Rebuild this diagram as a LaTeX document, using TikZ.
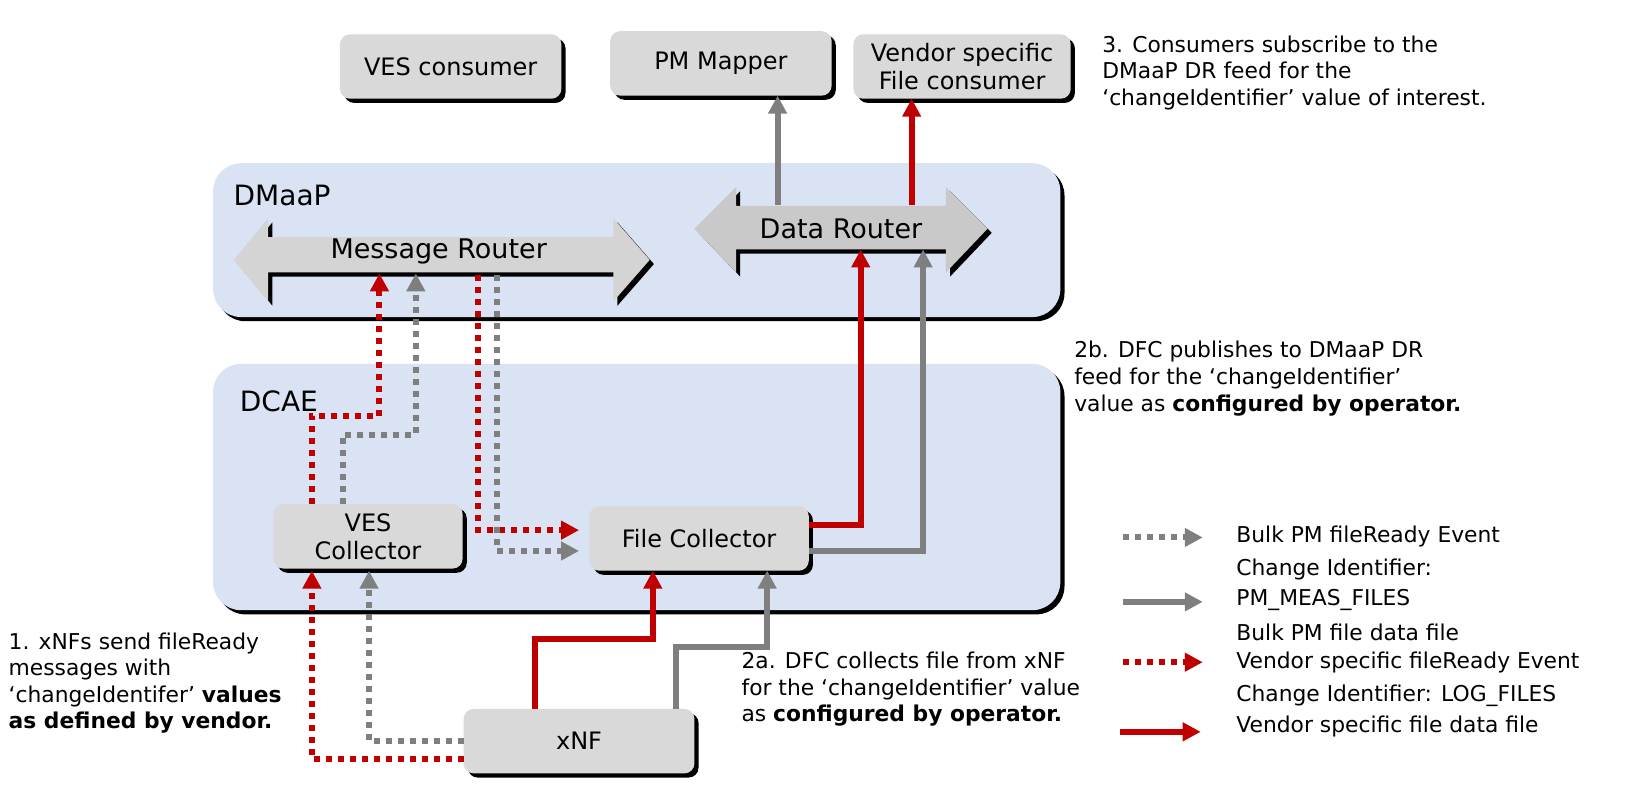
\documentclass[tikz,border=0pt]{standalone}
\usepackage{fontspec}
\setmainfont{DejaVu Sans}
\usetikzlibrary{arrows.meta}
\definecolor{panel}{HTML}{DAE3F3}
\definecolor{boxg}{HTML}{D9D9D9}
\definecolor{rtr}{HTML}{C9C9C9}
\definecolor{myred}{HTML}{C00000}
\definecolor{mygray}{HTML}{7F7F7F}
\tikzset{
  px/.style={x=0.5198pt,y=-0.5198pt},
  panelbox/.style={fill=panel,rounded corners=14pt},
  comp/.style={fill=boxg,rounded corners=5pt,draw=none},
  shadowc/.style={fill=black,rounded corners=5pt},
  lbl/.style={font=\fontsize{12}{14}\selectfont,align=center},
  rlbl/.style={font=\fontsize{13.5}{15}\selectfont,align=center},
  note/.style={font=\fontsize{10.9}{13.3}\selectfont,align=left,anchor=north west,inner sep=0pt},
  redsolid/.style={draw=myred,line width=3pt,-{Triangle[length=9pt,width=9pt]}},
  graysolid/.style={draw=mygray,line width=3pt,-{Triangle[length=9pt,width=9pt]}},
  reddot/.style={draw=myred,line width=3pt,dash pattern=on 3pt off 3pt,-{Triangle[length=9pt,width=9pt]}},
  graydot/.style={draw=mygray,line width=3pt,dash pattern=on 3pt off 3pt,-{Triangle[length=9pt,width=9pt]}},
}
\newcommand{\compbox}[6]{% name x1 y1 x2 y2 text
  \fill[shadowc] (#2+4,#3+4) rectangle (#4+4,#5+4);
  \fill[comp] (#2,#3) rectangle (#4,#5);
  \node[lbl] (#1) at ({(#2+#4)/2},{(#3+#5)/2}) {#6};}
\begin{document}
\begin{tikzpicture}[px]
\useasboundingbox (0,0) rectangle (1568,766);
% panels
\fill[black,rounded corners=14pt] (209,161) rectangle (1024,309);
\fill[panelbox] (205,157) rectangle (1020,305);
\fill[black,rounded corners=14pt] (209,354) rectangle (1024,591);
\fill[panelbox] (205,350) rectangle (1020,587);
\node[font=\fontsize{14}{16}\selectfont,anchor=west] (dmaap) at (218,188) {DMaaP};
\node[font=\fontsize{14}{16}\selectfont,anchor=west] (dcae) at (224,386) {DCAE};
% top boxes
\compbox{ves}{327}{33}{540}{95}{VES consumer}
\compbox{pmm}{587}{30}{800}{92}{PM Mapper}
\compbox{vsf}{821}{33}{1030}{95}{Vendor specific\\File consumer}
% routers
\fill[black] (229,254) -- (262,214) -- (262,232) -- (594,232) -- (594,214) -- (629,254) -- (594,294) -- (594,266) -- (262,266) -- (262,294) -- cycle;
\fill[rtr!80!white] (225,250) -- (258,210) -- (258,228) -- (590,228) -- (590,210) -- (625,250) -- (590,290) -- (590,262) -- (258,262) -- (258,290) -- cycle;
\node[rlbl] (mr) at (422,242) {Message Router};
\fill[black] (672,224) -- (712,184) -- (712,202) -- (914,202) -- (914,184) -- (954,224) -- (914,266) -- (914,244) -- (712,244) -- (712,266) -- cycle;
\fill[rtr] (668,220) -- (708,180) -- (708,198) -- (910,198) -- (910,180) -- (950,220) -- (910,262) -- (910,240) -- (708,240) -- (708,262) -- cycle;
\node[rlbl] (dr) at (809,220) {Data Router};
% lower boxes
\compbox{vesc}{263}{485}{445}{547}{VES\\Collector}
\compbox{fc}{567}{487}{778}{549}{File Collector}
\compbox{xnf}{446}{682}{668}{744}{xNF}
% connectors
\coordinate (a1) at (748,197); \coordinate (a2) at (748,92);
\coordinate (b1) at (877,197); \coordinate (b2) at (877,95);
\draw[graysolid] (a1) -- (a2);
\draw[redsolid] (b1) -- (b2);
\draw[redsolid] (778,505) -- (828,505) -- (828,240);
\draw[graysolid] (778,530) -- (888,530) -- (888,240);
\draw[reddot] (300,485) -- (300,400) -- (365,400) -- (365,263);
\draw[graydot] (330,485) -- (330,418) -- (400,418) -- (400,263);
\draw[reddot] (460,265) -- (460,510) -- (557,510);
\draw[graydot] (478,265) -- (478,530) -- (557,530);
\draw[reddot] (446,730) -- (300,730) -- (300,549);
\draw[graydot] (446,713) -- (355,713) -- (355,549);
\draw[redsolid] (515,682) -- (515,615) -- (628,615) -- (628,549);
\draw[graysolid] (650,682) -- (650,622) -- (738,622) -- (738,549);
% notes
\node[note] (n3) at (1060,34) {3. Consumers subscribe to the\\DMaaP DR feed for the\\‘changeIdentifier’ value of interest.};
\node[note] (n2b) at (1033,328) {2b. DFC publishes to DMaaP DR\\feed for the ‘changeIdentifier’\\value as \textbf{configured by operator.}};
\node[note] (n1) at (8,608) {1. xNFs send fileReady\\messages with\\‘changeIdentifer’ \textbf{values}\\\textbf{as defined by vendor.}};
\node[note] (n2a) at (713,627) {2a. DFC collects file from xNF\\for the ‘changeIdentifier’ value\\as \textbf{configured by operator.}};
% legend
\coordinate (l1a) at (1080,517); \coordinate (l1b) at (1157,517);
\coordinate (l2a) at (1080,579); \coordinate (l2b) at (1157,579);
\coordinate (l3a) at (1080,637); \coordinate (l3b) at (1157,637);
\coordinate (l4a) at (1077,704); \coordinate (l4b) at (1155,704);
\draw[graydot] (l1a) -- (l1b);
\draw[graysolid] (l2a) -- (l2b);
\draw[reddot] (l3a) -- (l3b);
\draw[redsolid] (l4a) -- (l4b);
\node[note,anchor=west] (t1) at (1189,516) {Bulk PM fileReady Event};
\node[note,anchor=west] (t2) at (1189,548) {Change Identifier:};
\node[note,anchor=west] (t3) at (1189,577) {PM\_MEAS\_FILES};
\node[note,anchor=west] (t4) at (1189,608) {Bulk PM file data file};
\node[note,anchor=west] (t5) at (1189,637) {Vendor specific fileReady Event};
\node[note,anchor=west] (t6) at (1189,669) {Change Identifier: LOG\_FILES};
\node[note,anchor=west] (t7) at (1189,699) {Vendor specific file data file};
\end{tikzpicture}
\end{document}
